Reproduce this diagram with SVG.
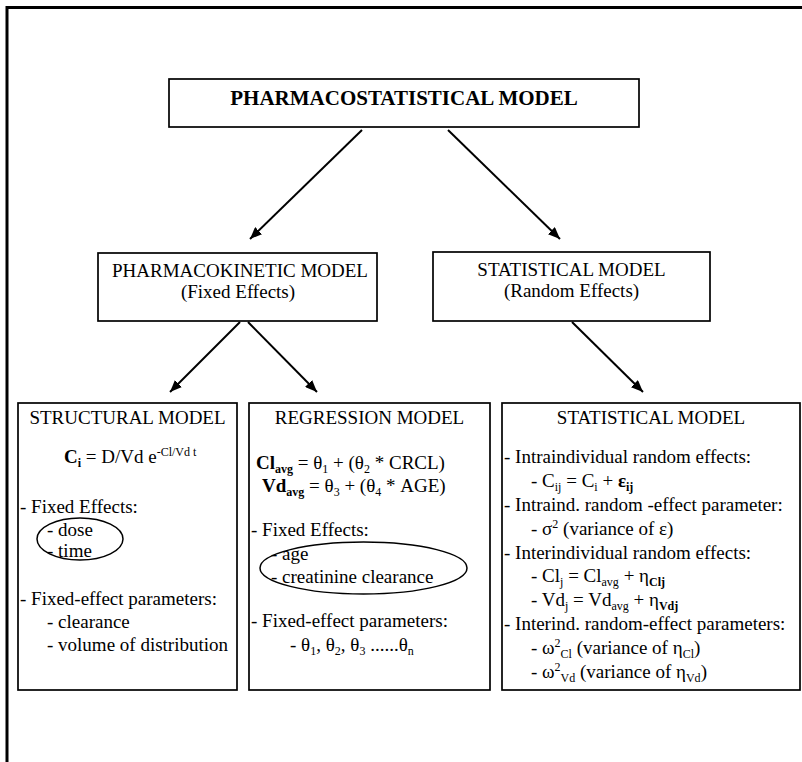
<svg xmlns="http://www.w3.org/2000/svg" width="802" height="762" viewBox="0 0 802 762">
<style>
text{font-family:"Liberation Serif","Times New Roman",serif;font-size:19px;fill:#000}
.t{font-weight:bold;font-size:21px}
.m{text-anchor:middle}
.b{font-weight:bold}
.sub{font-size:12px;baseline-shift:-3.5px}
.sup{font-size:12px;baseline-shift:7px}
.box{fill:#fff;stroke:#000;stroke-width:1.7}
.ell{fill:none;stroke:#000;stroke-width:1.5}
.conn line{stroke:#000;stroke-width:2}
</style>
<defs>
<marker id="ah" viewBox="0 0 12 10" refX="12" refY="5" markerWidth="12" markerHeight="10" markerUnits="userSpaceOnUse" orient="auto">
<path d="M0,0 L12,5 L0,10 z" fill="#000"/>
</marker>
</defs>
<rect x="0" y="0" width="802" height="762" fill="#fff"/>
<rect id="frame" x="7" y="7.5" width="820" height="780" fill="none" stroke="#000" stroke-width="3"/>

<g id="title">
<rect class="box" x="169" y="79" width="470" height="48"/>
<text class="t m" x="404" y="105">PHARMACOSTATISTICAL MODEL</text>
</g>

<g id="pk">
<rect class="box" x="98" y="253" width="279" height="68"/>
<text class="m" x="240" y="277">PHARMACOKINETIC MODEL</text>
<text class="m" x="238" y="298">(Fixed Effects)</text>
</g>

<g id="stat">
<rect class="box" x="433" y="252" width="277" height="69"/>
<text class="m" x="571.5" y="276">STATISTICAL MODEL</text>
<text class="m" x="571.5" y="297">(Random Effects)</text>
</g>

<g id="structural">
<rect class="box" x="18" y="403" width="219" height="287"/>
<ellipse class="ell" cx="80" cy="539" rx="43" ry="21"/>
<text class="m" x="127.5" y="424">STRUCTURAL MODEL</text>
<text x="64" y="463"><tspan class="b">C</tspan><tspan class="sub b">i</tspan> = D/Vd e<tspan class="sup">-Cl/Vd t</tspan></text>
<text x="20" y="513">- Fixed Effects:</text>
<text x="47" y="536">- dose</text>
<text x="47" y="557">- time</text>
<text x="20" y="605">- Fixed-effect parameters:</text>
<text x="47" y="628">- clearance</text>
<text x="47" y="651">- volume of distribution</text>
</g>

<g id="regression">
<rect class="box" x="249" y="403" width="241" height="287"/>
<ellipse class="ell" cx="363.5" cy="568" rx="103.5" ry="26"/>
<text class="m" x="369.5" y="424">REGRESSION MODEL</text>
<text x="256" y="469"><tspan class="b">Cl</tspan><tspan class="sub b">avg</tspan> = θ<tspan class="sub">1</tspan> + (θ<tspan class="sub">2</tspan> * CRCL)</text>
<text x="262" y="492"><tspan class="b">Vd</tspan><tspan class="sub b">avg</tspan> =  θ<tspan class="sub">3</tspan> + (θ<tspan class="sub">4</tspan> * AGE)</text>
<text x="251" y="536">- Fixed Effects:</text>
<text x="271" y="560">- age</text>
<text x="271" y="583">- creatinine clearance</text>
<text x="251" y="627">- Fixed-effect parameters:</text>
<text x="290" y="651">- θ<tspan class="sub">1</tspan>, θ<tspan class="sub">2</tspan>, θ<tspan class="sub">3</tspan> ......θ<tspan class="sub">n</tspan></text>
</g>

<g id="statistical">
<rect class="box" x="502" y="403" width="298" height="287"/>
<text class="m" x="651" y="424">STATISTICAL MODEL</text>
<text x="504" y="463">- Intraindividual random effects:</text>
<text x="531" y="487">- C<tspan class="sub">ij</tspan> = C<tspan class="sub">i</tspan> + <tspan class="b">ε</tspan><tspan class="sub b">ij</tspan></text>
<text x="504" y="511">- Intraind. random -effect parameter:</text>
<text x="531" y="535">- σ<tspan class="sup">2</tspan> (variance of ε)</text>
<text x="504" y="559">- Interindividual random effects:</text>
<text x="531" y="582">- Cl<tspan class="sub">j</tspan> = Cl<tspan class="sub">avg</tspan> + η<tspan class="sub b">Clj</tspan></text>
<text x="531" y="606">- Vd<tspan class="sub">j</tspan> = Vd<tspan class="sub">avg</tspan> + η<tspan class="sub b">Vdj</tspan></text>
<text x="504" y="630">- Interind. random-effect parameters:</text>
<text x="531" y="654">- ω<tspan class="sup">2</tspan><tspan class="sub">Cl</tspan> (variance of η<tspan class="sub">Cl</tspan>)</text>
<text x="531" y="678">- ω<tspan class="sup">2</tspan><tspan class="sub">Vd</tspan> (variance of η<tspan class="sub">Vd</tspan>)</text>
</g>

<g id="connectors" class="conn">
<line x1="362" y1="130" x2="250" y2="239" marker-end="url(#ah)"/>
<line x1="448" y1="130" x2="560" y2="239" marker-end="url(#ah)"/>
<line x1="240" y1="322" x2="170" y2="392" marker-end="url(#ah)"/>
<line x1="248" y1="322" x2="317" y2="392" marker-end="url(#ah)"/>
<line x1="572" y1="322" x2="643" y2="392" marker-end="url(#ah)"/>
</g>
</svg>
